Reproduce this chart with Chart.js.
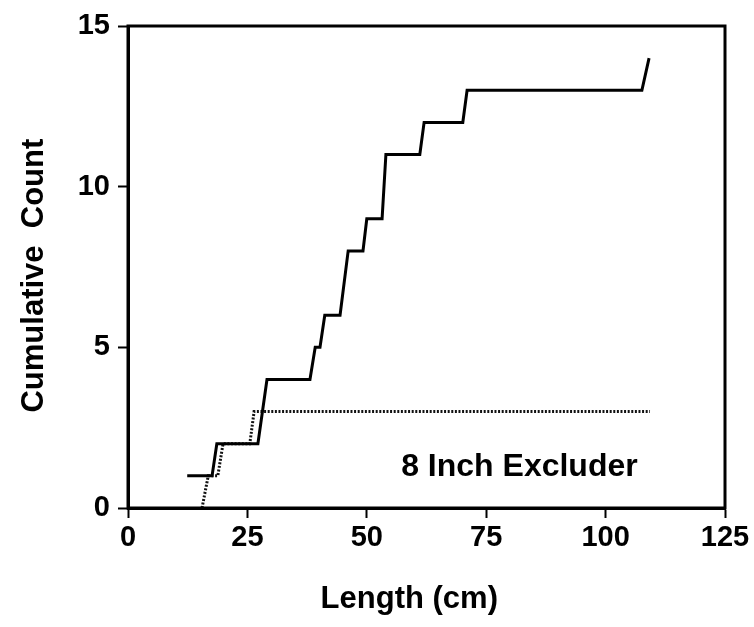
<!DOCTYPE html>
<html>
<head>
<meta charset="utf-8">
<script src="https://cdn.jsdelivr.net/npm/chart.js@4"></script>
<style>
  html, body { margin: 0; padding: 0; background: #fff; }
  #wrap { width: 754px; height: 627px; }
</style>
</head>
<body>
<div id="wrap"><canvas id="lengthChart" width="754" height="627"></canvas></div>
<script>
// Cumulative count vs length (steps drawn as slanted risers)
const trawlLengths = [12.4, 17.6, 18.6, 27.2, 29.1, 38.1, 39.2, 40.2, 41.2, 44.4, 46.1, 49.2, 50.0, 53.2, 54.0, 61.1, 62.0, 70.1, 71.0, 107.6, 109.1];
const trawlCounts  = [1, 1, 2, 2, 4, 4, 5, 5, 6, 6, 8, 8, 9, 9, 11, 11, 12, 12, 13, 13, 14];

const excluderLengths = [15.5, 16.8, 18.8, 19.9, 25.5, 26.4, 109.3];
const excluderCounts  = [0, 1, 1, 2, 2, 3, 3];

const xTicks = [0, 25, 50, 75, 100, 125];
const yTicks = [0, 5, 10, 15];

const FONT = "'Liberation Sans', Arial, Helvetica, sans-serif";

function toPoints(xs, ys) {
  return xs.map((x, i) => ({ x: x, y: ys[i] }));
}

// frame round the plot area + the in-plot label
const framePlugin = {
  id: "frame",
  afterDraw(chart) {
    const { ctx, chartArea: a, scales } = chart;
    ctx.save();
    ctx.strokeStyle = "#000";
    ctx.lineWidth = 3;
    ctx.strokeRect(a.left, a.top, a.right - a.left, a.bottom - a.top);

    ctx.fillStyle = "#000";
    ctx.font = "bold 32px " + FONT;
    ctx.textAlign = "left";
    ctx.textBaseline = "alphabetic";
    ctx.fillText("8 Inch Excluder", scales.x.getPixelForValue(57.2), scales.y.getPixelForValue(1.0));
    ctx.restore();
  }
};

new Chart(document.getElementById("lengthChart"), {
  type: "scatter",
  data: {
    datasets: [
      {
        label: "Trawl",
        data: toPoints(trawlLengths, trawlCounts),
        showLine: true,
        borderColor: "#000",
        borderWidth: 3,
        pointRadius: 0,
        tension: 0
      },
      {
        label: "8 Inch Excluder",
        data: toPoints(excluderLengths, excluderCounts),
        showLine: true,
        borderColor: "#111",
        borderWidth: 3,
        borderDash: [2, 1.6],
        pointRadius: 0,
        tension: 0
      }
    ]
  },
  options: {
    responsive: false,
    animation: false,
    layout: { padding: { top: 26, right: 29, left: 0, bottom: 0 } },
    plugins: {
      legend: { display: false },
      tooltip: { enabled: false }
    },
    scales: {
      x: {
        type: "linear",
        min: 0,
        max: 125,
        afterBuildTicks: s => { s.ticks = xTicks.map(v => ({ value: v })); },
        afterFit: s => { s.height = 627 - 508; },
        border: { display: true, color: "#000", width: 3 },
        grid: { drawOnChartArea: false, drawTicks: true, tickLength: 10, tickColor: "#000", tickWidth: 2 },
        ticks: { color: "#000", padding: 3, font: { family: FONT, size: 29, weight: "bold" }, maxRotation: 0 },
        title: {
          display: true,
          text: "Length (cm)    ",
          color: "#000",
          font: { family: FONT, size: 31, weight: "bold" },
          padding: { top: 0, bottom: 9 }
        }
      },
      y: {
        type: "linear",
        min: 0,
        max: 15,
        afterBuildTicks: s => { s.ticks = yTicks.map(v => ({ value: v })); },
        afterFit: s => { s.width = 128; },
        border: { display: true, color: "#000", width: 3 },
        grid: { drawOnChartArea: false, drawTicks: true, tickLength: 10, tickColor: "#000", tickWidth: 2 },
        ticks: { color: "#000", padding: 8, font: { family: FONT, size: 29, weight: "bold" } },
        title: {
          display: true,
          text: "Cumulative  Count  ",
          color: "#000",
          font: { family: FONT, size: 31, weight: "bold" },
          padding: { top: 16, bottom: 0 }
        }
      }
    }
  },
  plugins: [framePlugin]
});
</script>
</body>
</html>
